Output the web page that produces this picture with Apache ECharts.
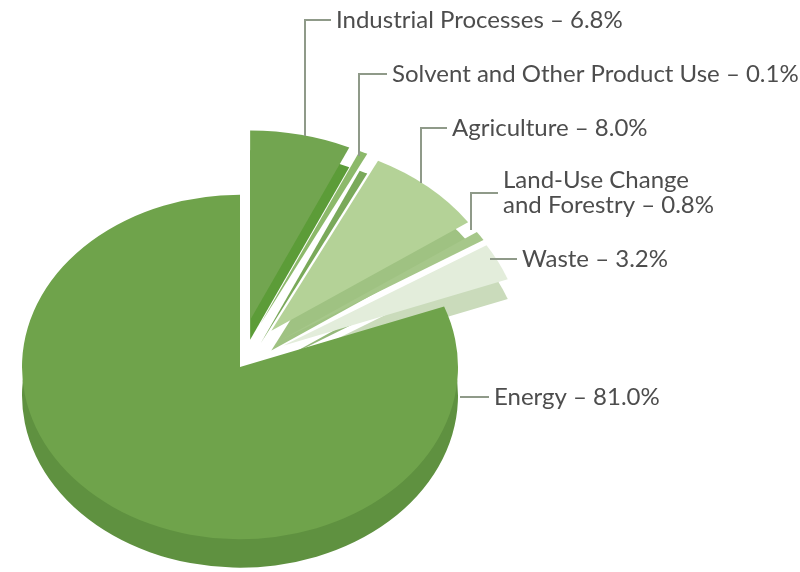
<!DOCTYPE html>
<html>
<head>
<meta charset="utf-8">
<script src="https://cdn.jsdelivr.net/npm/echarts@6/dist/echarts.min.js"></script>
<style>
  html, body { margin: 0; padding: 0; background: #fff; }
  #chart { width: 800px; height: 572px; }
</style>
</head>
<body>
<div id="chart"></div>
<script>
// data
var categories = [
  "Industrial Processes",
  "Solvent and Other Product Use",
  "Agriculture",
  "Land-Use Change\nand Forestry",
  "Waste",
  "Energy"
];
var shares = [6.8, 0.1, 8.0, 0.8, 3.2, 81.0];

// styles
var topColors = ["#72a550", "#8cb96a", "#b4d297", "#a6c78a", "#e3eddb", "#6fa34b"];
var sideColors = ["#5c9c38", "#7aa95a", "#9fc282", "#94b87a", "#cadbbb", "#5f9140"];
// label layout: anchor x, anchor y, elbow y, text x
var labelPos = [
  [305, 136, 20, 336],
  [359, 156, 74, 392],
  [421, 183, 128, 452],
  [471, 230, 193, 503],
  [490, 259, 259, 522],
  [460, 397, 397, 494]
];

var CX = 240, CY = 367, TILT = 0.79;
var ENERGY = categories.length - 1;

function slices(colors, energyPart) {
  return categories.map(function (name, i) {
    var mine = energyPart ? i === ENERGY : i !== ENERGY;
    return {
      name: name,
      value: shares[i],
      selected: i !== ENERGY,
      itemStyle: { color: mine ? colors[i] : "rgba(0,0,0,0)" }
    };
  });
}

var common = {
  type: "pie",
  startAngle: 90,
  clockwise: true,
  minAngle: 2,
  avoidLabelOverlap: false,
  silent: true,
  animation: false,
  emphasis: { disabled: true },
  itemStyle: { borderWidth: 0 }
};

function pie(energyPart, colors, radius, dy, z) {
  return Object.assign({}, common, {
    z: z,
    center: [CX, CY + dy],
    radius: [0, radius],
    selectedMode: "multiple",
    selectedOffset: 48,
    label: { show: false },
    labelLine: { show: false },
    data: slices(colors, energyPart)
  });
}

// invisible copy of the pie that only carries the labels
var labelSeries = Object.assign({}, common, {
  name: "labels",
  z: 5,
  center: [CX, CY],
  radius: [0, 218],
  selectedMode: false,
  label: {
    show: true,
    formatter: function (p) {
      return p.name + " \u2013 " + p.value.toFixed(1) + "%";
    },
    fontFamily: "Lato",
    fontSize: 24,
    lineHeight: 25,
    color: "#4d4d4d"
  },
  labelLine: {
    show: true,
    lineStyle: { color: "#8f9a89", width: 2 }
  },
  labelLayout: function (p) {
    var lp = labelPos[p.dataIndex];
    return {
      x: lp[3],
      y: lp[2],
      align: "left",
      verticalAlign: "middle",
      labelLinePoints: [[lp[0], lp[1]], [lp[0], lp[2]], [lp[3] - 5, lp[2]]]
    };
  },
  data: categories.map(function (name, i) {
    return { name: name, value: shares[i], itemStyle: { color: "rgba(0,0,0,0)" } };
  })
});

var chart = echarts.init(document.getElementById("chart"));
chart.setOption({
  backgroundColor: "#ffffff",
  animation: false,
  series: [
    pie(true, sideColors, 218, 36, 1),
    pie(false, sideColors, 240, 25, 1),
    pie(true, topColors, 218, 0, 2),
    pie(false, topColors, 240, 0, 3),
    labelSeries
  ]
});

// tilt the pie into an ellipse (labels stay upright)
var model = chart.getModel ? chart.getModel() : chart._model;
model.eachSeries(function (s) {
  if (s.name === "labels") return;
  var data = s.getData();
  data.each(function (i) {
    var el = data.getItemGraphicEl(i);
    if (el) {
      el.attr({ scaleY: TILT, originX: CX, originY: CY });
    }
  });
});
chart.getZr().refresh();
</script>
</body>
</html>
